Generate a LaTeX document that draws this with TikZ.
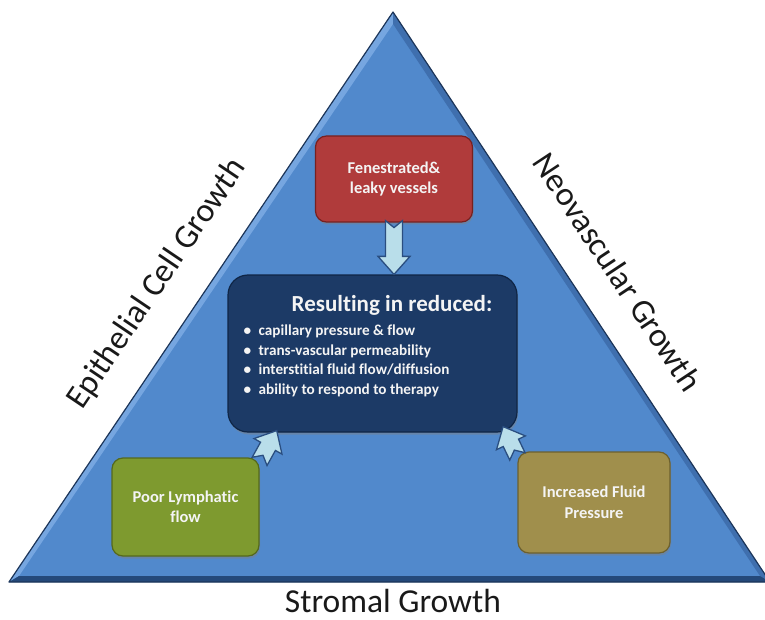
\documentclass[tikz,border=0pt]{standalone}
\usepackage{fontspec}
\setmainfont{Carlito}[Ligatures=NoCommon]
\usetikzlibrary{calc,shadows}

\definecolor{triblue}{HTML}{5189CC}
\definecolor{trilight}{HTML}{76A6E0}
\definecolor{trimid}{HTML}{3F6FAE}
\definecolor{tridark}{HTML}{24497A}
\definecolor{triedge}{HTML}{1C3559}
\definecolor{navybox}{HTML}{1C3A66}
\definecolor{navyedge}{HTML}{0F2545}
\definecolor{redbox}{HTML}{B03B3B}
\definecolor{rededge}{HTML}{772020}
\definecolor{greenbox}{HTML}{7E9A2F}
\definecolor{greenedge}{HTML}{55691C}
\definecolor{olivebox}{HTML}{A08F4C}
\definecolor{oliveedge}{HTML}{6C602E}
\definecolor{arrowfill}{HTML}{B9DEEA}
\definecolor{arrowedge}{HTML}{2A4E80}
\definecolor{boxtext}{HTML}{F4F4F4}

\tikzset{
  factor/.style={rounded corners=11pt, line width=1.2pt, text=boxtext,
    font=\bfseries\fontsize{16.5}{20.5}\selectfont, align=center,
    drop shadow={shadow xshift=1pt, shadow yshift=-2.5pt, opacity=0.45}},
  panel/.style={factor, rounded corners=20pt, fill=navybox, draw=navyedge},
  sidelabel/.style={font=\fontsize{33.5}{36}\selectfont, text=black!90, inner sep=1pt},
  blockarrow/.style={fill=arrowfill, draw=arrowedge, line width=1.3pt, line join=miter},
}

% block arrow with a notched tail, drawn from coordinate #1 (tail) to #2 (tip)
\newcommand{\notchedarrow}[2]{%
  \path (#1) coordinate (ba-t) (#2) coordinate (ba-h);
  \path ($(ba-h)!18pt!(ba-t)$) coordinate (ba-n);
  \draw[blockarrow]
    ($(ba-t)!8.5pt!90:(ba-h)$) -- ($(ba-n)!8.5pt!-90:(ba-t)$)
    -- ($(ba-n)!16pt!-90:(ba-t)$) -- (ba-h)
    -- ($(ba-n)!16pt!90:(ba-t)$) -- ($(ba-n)!8.5pt!90:(ba-t)$)
    -- ($(ba-t)!8.5pt!-90:(ba-h)$) -- ($(ba-t)!7pt!(ba-h)$) -- cycle;
}

\begin{document}
\begin{tikzpicture}[x=1pt, y=-1pt]
  \path[use as bounding box, clip] (0,0) rectangle (765,620);

  % the pyramid with its bevelled rim
  \coordinate (apex) at (393,12);
  \coordinate (bl) at (9,582);
  \coordinate (br) at (770,582);
  \coordinate (iapex) at (393,24);
  \coordinate (ibl) at (19,576);
  \coordinate (ibr) at (760,576);
  \fill[triblue] (apex) -- (bl) -- (br) -- cycle;
  \fill[trilight] (apex) -- (bl) -- (ibl) -- (iapex) -- cycle;
  \fill[trimid] (apex) -- (br) -- (ibr) -- (iapex) -- cycle;
  \fill[tridark] (bl) -- (br) -- (ibr) -- (ibl) -- cycle;
  \draw[triedge, line width=1.2pt, line join=round] (apex) -- (bl) -- (br) -- cycle;

  % side labels
  \node[sidelabel, rotate=56] (epithelial) at (157,284) {Epithelial Cell Growth};
  \node[sidelabel, rotate=-56.5] (neovascular) at (618,272) {Neovascular Growth};
  \node[sidelabel] (stromal) at (393,601) {Stromal Growth};

  % boxes
  \node[factor, fill=redbox, draw=rededge, minimum width=157pt, minimum height=86pt]
    (vessels) at (394,179) {Fenestrated\&\\leaky vessels};
  \node[panel, minimum width=289pt, minimum height=157pt] (result) at (372.5,353.5) {};
  \node[factor, fill=greenbox, draw=greenedge, minimum width=147pt, minimum height=98pt]
    (lymph) at (185.5,507) {Poor Lymphatic\\flow};
  \node[factor, fill=olivebox, draw=oliveedge, minimum width=152pt, minimum height=101pt]
    (pressure) at (594,502.5) {Increased Fluid\\Pressure};

  % text of the central panel
  \node[text=boxtext, font=\bfseries\fontsize{23}{26}\selectfont]
    (title) at (392,305) {Resulting in reduced:};
  \node[anchor=west, align=left, text=boxtext, font=\bfseries\fontsize{15.2}{19.6}\selectfont]
    (effects) at (240,361) {\textbullet\enspace capillary pressure \& flow\\
      \textbullet\enspace trans-vascular permeability\\
      \textbullet\enspace interstitial fluid flow/diffusion\\
      \textbullet\enspace ability to respond to therapy};

  % arrows into the central panel
  \coordinate (topin) at (result.north -| vessels.south);
  \coordinate (leftin) at ($(result.south west)!0.17!(result.south east)+(0,-2)$);
  \coordinate (rightin) at ($(result.south west)!0.95!(result.south east)+(0,-6)$);
  \notchedarrow{$(vessels.south)+(0,-2)$}{topin}
  \notchedarrow{$(lymph.north east)+(0,4)$}{leftin}
  \notchedarrow{$(pressure.north west)+(0,5)$}{rightin}
\end{tikzpicture}
\end{document}
